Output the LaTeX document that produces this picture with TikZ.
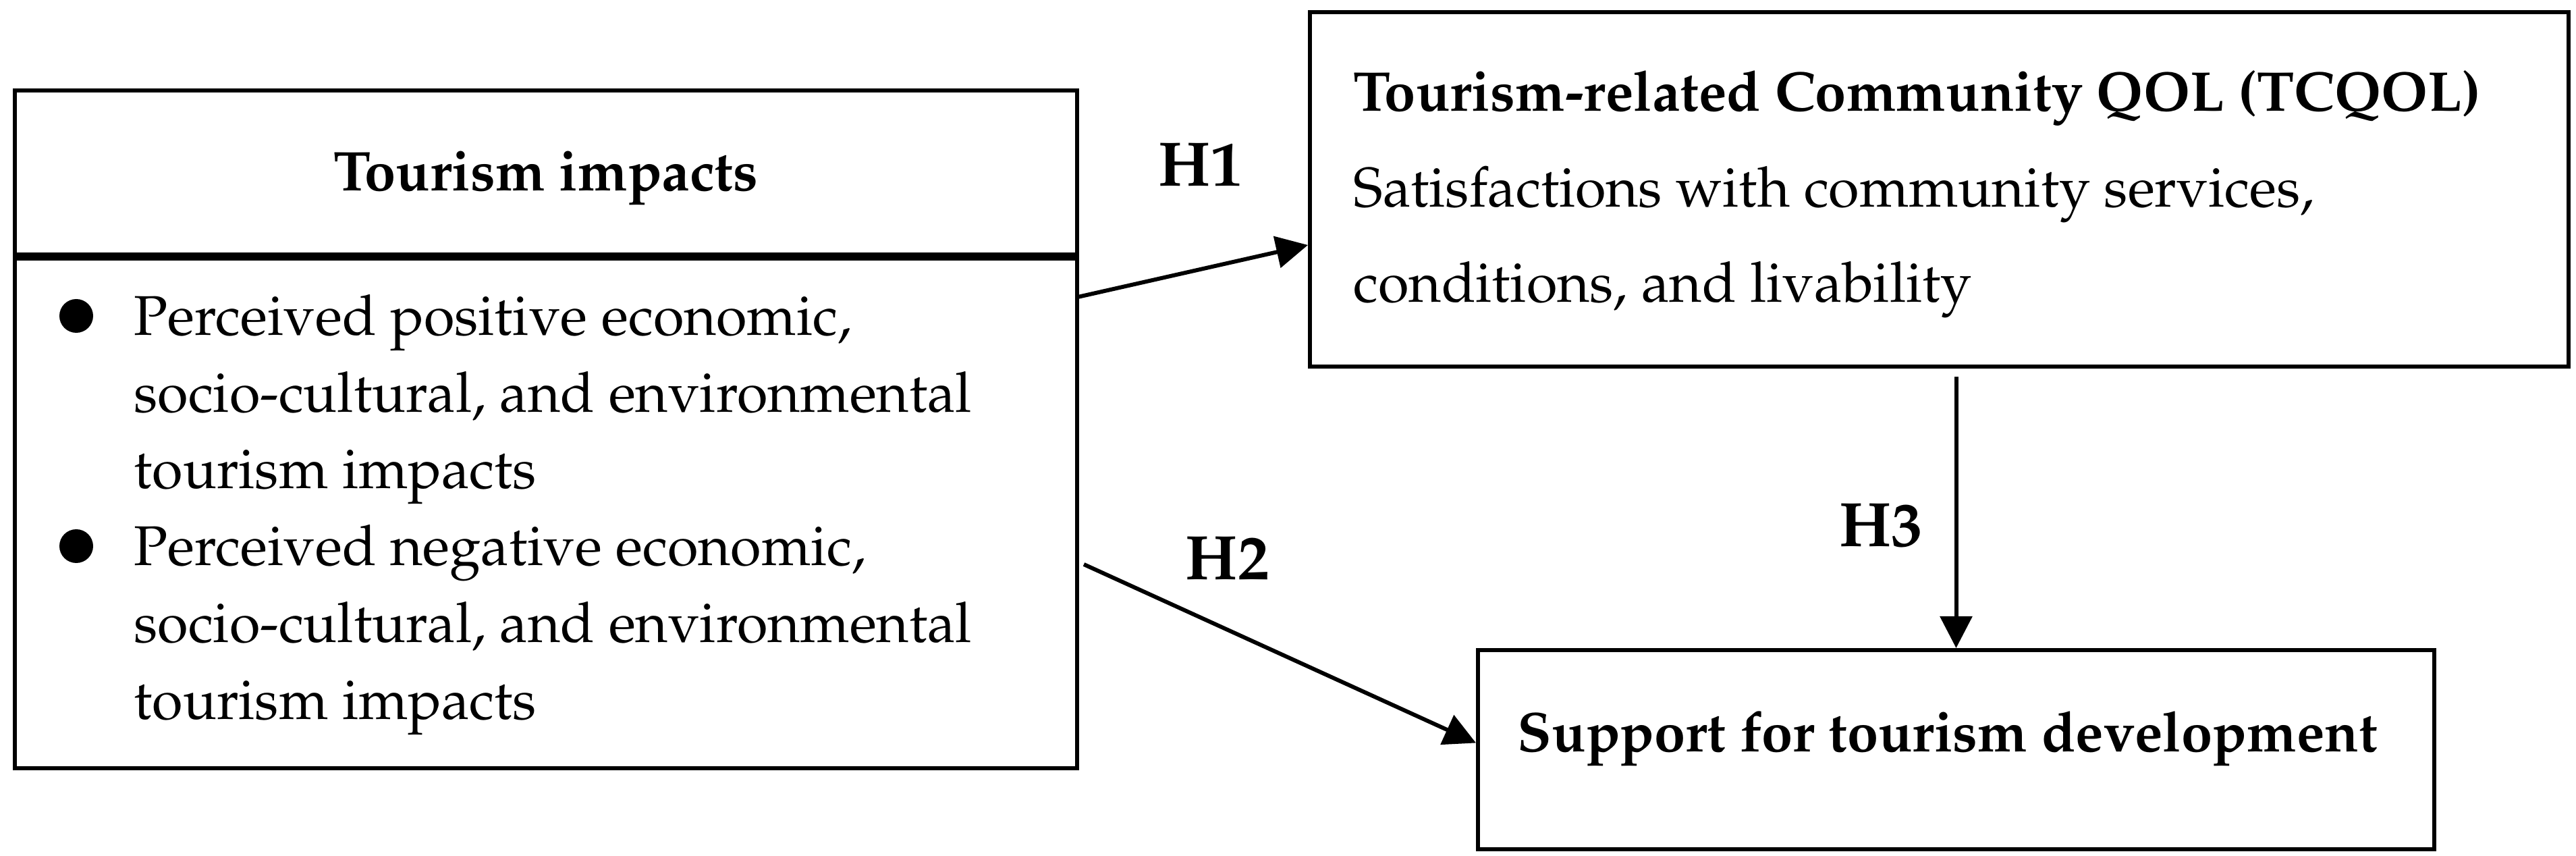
\documentclass[tikz,border=0pt]{standalone}
\usepackage[T1]{fontenc}
\usepackage{mathpazo}
\usetikzlibrary{calc,arrows.meta}

\tikzset{
  boxline/.style={draw,line width=1.7pt,inner sep=0pt,anchor=north west},
  bodytxt/.style={font=\fontsize{23.6}{32.3}\selectfont,align=left,inner sep=0pt},
  qoltxt/.style={font=\fontsize{23.6}{40.3}\selectfont,align=left,inner sep=0pt},
  hyp/.style={font=\fontsize{26.5}{30}\selectfont\bfseries,inner sep=0pt},
  dotmark/.style={circle,fill,inner sep=0pt,minimum size=0.5cm},
  arr/.style={-{Triangle[length=0.47cm,width=0.47cm]},line width=1.7pt},
}

\begin{document}
\begin{tikzpicture}
	\useasboundingbox (0,0) rectangle (38.17,12.67);

	%% Tourism impacts box (header + body)
	\node[boxline,minimum width=15.74cm,minimum height=2.43cm] (headbox) at (0.19,11.36) {};
	\node[boxline,minimum width=15.74cm,minimum height=7.55cm] (bodybox) at (headbox.south west) {};
	\draw[line width=3.1pt] (headbox.south west) -- (headbox.south east); % divider
	\node[bodytxt,font=\fontsize{23.6}{30}\selectfont\bfseries,anchor=base]
	  (headtxt) at ([yshift=-0.27cm]headbox.center) {Tourism impacts};

	% base anchor of a multi-line node sits on its last line
	\node[dotmark] (dot1) at (1.13,7.99) {};
	\node[bodytxt,anchor=base west] (posimp) at (1.98,5.43)
	  {Perceived positive economic,\\socio-cultural, and environmental\\tourism impacts};
	\node[dotmark] (dot2) at (1.13,4.58) {};
	\node[bodytxt,anchor=base west] (negimp) at (1.98,2.02)
	  {Perceived negative economic,\\socio-cultural, and environmental\\tourism impacts};

	%% TCQOL box
	\node[boxline,minimum width=18.65cm,minimum height=5.25cm] (tcqol) at (19.38,12.52) {};
	\node[qoltxt,anchor=base west] (tcqoltxt) at (20.05,8.19)
	  {\textbf{Tourism-related Community QOL (TCQOL)}\\Satisfactions with community services,\\conditions, and livability};

	%% Support box
	\node[boxline,minimum width=14.17cm,minimum height=2.95cm] (support) at (21.87,3.07) {};
	\node[bodytxt,font=\fontsize{23.6}{30}\selectfont\bfseries,anchor=base west]
	  (supporttxt) at (22.48,1.54) {Support for tourism development};

	%% arrows
	\coordinate (h1from) at (15.97,8.27);
	\coordinate (h2from) at (16.06,4.31);
	\draw[arr] (h1from) -- ([yshift=-0.825cm]tcqol.west);
	\draw[arr] (h2from) -- ([yshift=0.1cm]support.west);
	\draw[arr] ([yshift=-0.12cm]tcqol.south -| support.north) -- (support.north);

	%% hypotheses
	\node[hyp,anchor=base west] (h1) at (17.16,9.91) {H1};
	\node[hyp,anchor=base west] (h2) at (17.56,4.09) {H2};
	\node[hyp,anchor=base east] (h3) at (28.50,4.57) {H3};
\end{tikzpicture}
\end{document}
